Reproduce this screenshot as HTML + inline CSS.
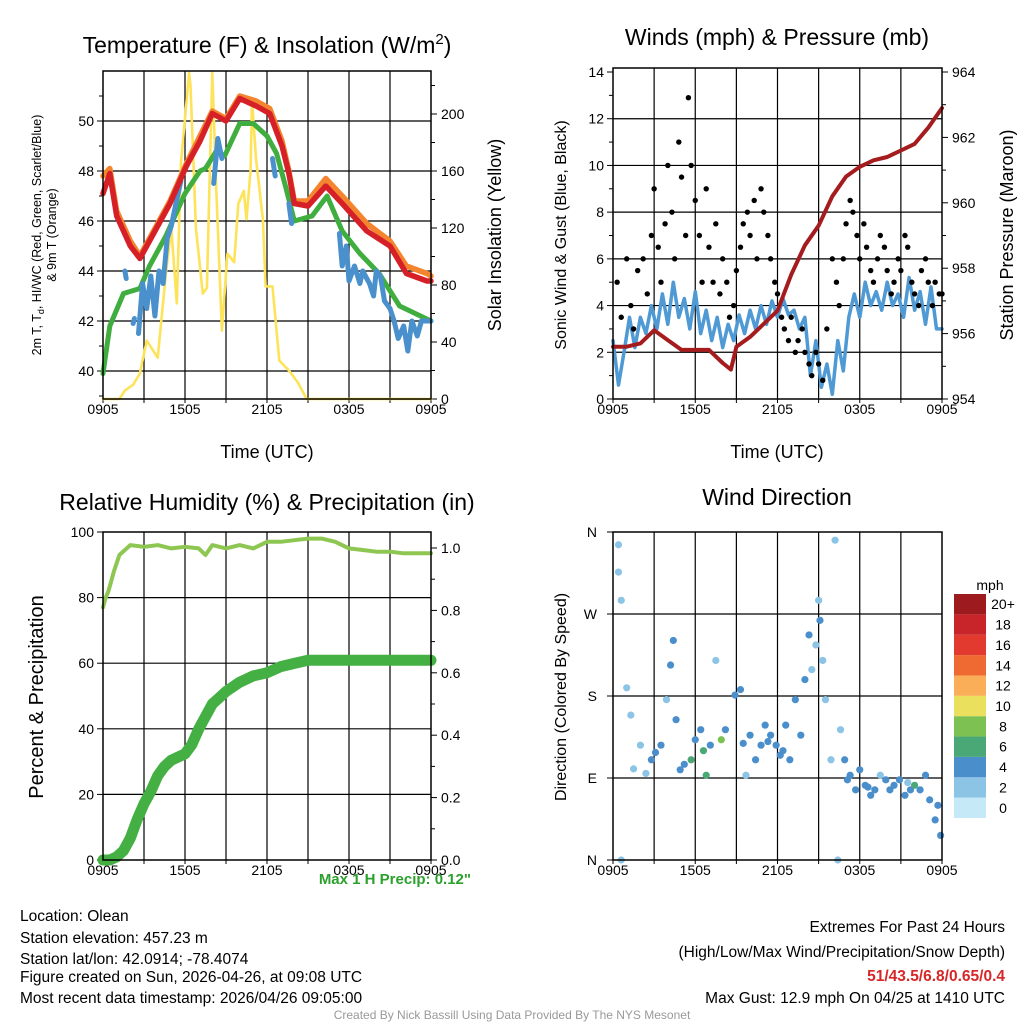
<!DOCTYPE html>
<html><head><meta charset="utf-8">
<style>
html,body{margin:0;padding:0;background:#fff;}
svg{display:block;font-family:"Liberation Sans",Arial,sans-serif;}
</style></head>
<body>
<svg id="root" width="1024" height="1024" viewBox="0 0 1024 1024">
<rect x="0" y="0" width="1024" height="1024" fill="#fff"/>
<text x="267" y="53" font-size="23" text-anchor="middle">Temperature (F) &amp; Insolation (W/m<tspan dy="-9" font-size="15">2</tspan><tspan dy="9">)</tspan></text>
<text x="777" y="45" font-size="23" text-anchor="middle">Winds (mph) &amp; Pressure (mb)</text>
<text x="267" y="510" font-size="23" text-anchor="middle">Relative Humidity (%) &amp; Precipitation (in)</text>
<text x="777" y="505" font-size="23" text-anchor="middle">Wind Direction</text>

<text transform="translate(41,235) rotate(-90)" font-size="12.5" text-anchor="middle">2m T, T<tspan font-size="9" dy="3">d</tspan><tspan dy="-3">, HI/WC (Red, Green, Scarlet/Blue)</tspan></text>
<text transform="translate(56,235) rotate(-90)" font-size="12.5" text-anchor="middle">&amp; 9m T (Orange)</text>
<text transform="translate(501,235) rotate(-90)" font-size="18" text-anchor="middle">Solar Insolation (Yellow)</text>
<text x="267" y="458" font-size="18" text-anchor="middle">Time (UTC)</text>
<text transform="translate(566,235) rotate(-90)" font-size="16" text-anchor="middle">Sonic Wind &amp; Gust (Blue, Black)</text>
<text transform="translate(1013,235) rotate(-90)" font-size="18" text-anchor="middle">Station Pressure (Maroon)</text>
<text x="777" y="458" font-size="18" text-anchor="middle">Time (UTC)</text>
<text transform="translate(43,697) rotate(-90)" font-size="20" text-anchor="middle">Percent &amp; Precipitation</text>
<text transform="translate(566,697) rotate(-90)" font-size="16" text-anchor="middle">Direction (Colored By Speed)</text>
<text x="471" y="884" font-size="15" font-weight="bold" fill="#2ca02c" text-anchor="end">Max 1 H Precip: 0.12"</text>
<text x="990" y="590" font-size="14" text-anchor="middle">mph</text>

<g font-size="15.5">
<text x="20" y="921">Location: Olean</text>
<text x="20" y="943">Station elevation: 457.23 m</text>
<text x="20" y="964">Station lat/lon: 42.0914; -78.4074</text>
<text x="20" y="982">Figure created on Sun, 2026-04-26, at 09:08 UTC</text>
<text x="20" y="1003">Most recent data timestamp: 2026/04/26 09:05:00</text>
</g>
<g font-size="15.5" text-anchor="end">
<text x="1005" y="932">Extremes For Past 24 Hours</text>
<text x="1005" y="957">(High/Low/Max Wind/Precipitation/Snow Depth)</text>
<text x="1005" y="981" font-weight="bold" fill="#d62728">51/43.5/6.8/0.65/0.4</text>
<text x="1005" y="1003">Max Gust: 12.9 mph On 04/25 at 1410 UTC</text>
</g>
<text x="512" y="1019" font-size="12" fill="#999" text-anchor="middle">Created By Nick Bassill Using Data Provided By The NYS Mesonet</text>
</svg>
<script>
// ---------- data ----------
const xTickLabels = ["0905","1505","2105","0305","0905"];
// Panel 1
const redT = [0,0.5,1,2,2.7,3.7,4.9,6.1,7.1,8,9,10,11.2,12.2,13.1,13.6,14,15,16.3,17.5,19.3,21,22.2,23.7,24];
const redV = [47.1,47.9,46.2,45,44.5,45.5,46.7,48.2,49.2,50.3,50,50.9,50.6,50.3,49,47.9,46.7,46.6,47.4,46.7,45.6,45,43.9,43.6,43.6];
const orangeV = [47.8,48.1,46.4,45.2,44.6,45.6,46.8,48.3,49.4,50.4,50.1,51,50.8,50.5,49.2,48.0,46.8,46.8,47.7,47.0,45.9,45.2,44.2,43.9,43.8];
const greenT = [0,0.5,1.5,2.7,3.4,4.6,6,7.1,7.5,8.3,8.9,10,11,12,12.7,13.4,14,15.3,16.4,17.5,18.8,20.2,21.7,24];
const greenV = [39.9,41.8,43.1,43.3,44.2,45.4,47.1,48,48.1,48.8,48.6,49.9,49.9,49.4,48.7,47.3,46,46.2,47,45.6,44.7,43.9,42.6,42];
const blueT = [1.6,1.7,null,2.2,2.3,null,2.6,2.9,3.2,3.5,3.8,4.1,4.4,4.7,5,5.3,5.7,null,8.1,8.4,8.7,null,12.4,12.6,null,13.6,13.8,null,17.3,17.5,17.8,18,18.4,18.8,19,19.5,19.8,20,20.3,20.6,21,21.3,21.6,22,22.3,22.6,23,23.3,23.6,24];
const blueV = [44,43.7,null,41.9,42.1,null,41.5,43.5,42.5,43.8,42.2,44,43.5,45.3,45.8,46.6,47.6,null,47.5,49.3,48.5,null,48.5,47.8,null,46.7,45.9,null,45.5,44.2,45,43.6,44.2,43.5,44,43.5,43,44,43.8,42.8,42.5,42,41.3,41.8,40.8,42,41.4,42,42,42];
const solarT = [0,1.2,1.6,2.2,2.7,3.2,4,4.6,5,5.4,5.7,6.3,6.4,6.8,7.3,7.6,8,8.3,8.7,9.1,9.6,9.9,10.3,10.5,10.8,10.9,11.2,11.7,11.9,12.4,12.9,13.6,14.3,14.9,24];
const solarV = [0,0,6,10,18,41,29,88,120,67,165,229,220,120,74,78,229,145,48,102,96,137,146,126,161,210,168,126,79,79,27,20,11,0,0];
// Panel 2
const windT = [0,0.4,0.8,1.2,1.6,2,2.4,2.8,3.2,3.6,4,4.4,4.8,5.2,5.6,6,6.4,6.8,7.2,7.6,8,8.4,8.8,9.2,9.6,10,10.4,10.8,11.2,11.6,12,12.4,12.8,13.2,13.6,14,14.4,14.8,15.2,15.6,16,16.4,16.8,17.2,17.6,18,18.4,18.8,19.2,19.6,20,20.4,20.8,21.2,21.6,22,22.4,22.8,23.2,23.6,24];
const windV = [2.5,0.6,2,3.5,2.2,3.5,2.8,4,3,4.5,3.2,5,3.5,4.3,3,4.6,2.8,3.8,2.5,3.5,2.2,3.2,2.5,3.6,2.8,3.8,3,4,3.2,4.2,3.5,4.3,3.6,3.8,3,3.5,1,2.5,0.5,1.5,0.2,2.5,1.2,3.5,4.5,3.5,5,4,4.6,3.8,5,4,4.5,3.5,5.2,3.8,4.6,3.2,4.8,3,3];
const gustT = [0.3,0.6,1,1.3,1.5,1.8,2.2,2.5,2.8,3,3.3,3.5,3.8,4,4.3,4.5,4.8,5,5.3,5.5,5.7,6,6.3,6.5,6.8,7,7.3,7.5,7.8,8,8.3,8.5,8.8,9,9.3,9.5,9.8,10,10.3,10.5,10.8,11,11.3,11.5,11.8,12,12.3,12.5,12.8,13,13.3,13.5,13.8,14,14.3,14.5,14.8,15,15.3,15.6,16,16.3,16.5,16.8,17,17.3,17.5,17.8,18,18.3,18.5,18.8,19,19.3,19.5,19.8,20,20.3,20.5,20.8,21,21.3,21.5,21.8,22,22.3,22.5,22.8,23,23.3,23.5,23.8,24];
const gustV = [5,3.5,6,4,3,5.5,6,4.5,7,9,6.5,5,7.5,10,8,6,11,9.5,7,12.9,10,8.5,7,5,9,6.5,5,7.5,4.5,6,5,3.5,4,5.5,6.5,7.5,8,7,8.5,6,9,8,7,6,5,4.5,3.5,3,2.5,3.5,2,2.5,3,2,1.5,1,2,1.5,0.8,3,6,5,4,6,7.5,8.5,8,7,6,7.5,6.5,5.5,5,6,7,6.5,5.5,4.5,5,6,5.5,7,6.5,5,4.5,4,5.5,6,5,4,5,4.5,4.5];
const presT = [0,1,2,3,4,5,6,7,8,8.6,9,10,11,12,13,14,15,16,17,18,19,20,21,22,23,24];
const presV = [955.6,955.6,955.7,956.1,955.8,955.5,955.5,955.5,955.1,954.9,955.6,955.9,956.3,956.7,957.8,958.7,959.3,960.2,960.8,961.1,961.3,961.4,961.6,961.8,962.3,962.9];
// Panel 3
const rhT = [0,0.2,0.4,0.8,1.2,2,3,4,5,6,7,7.5,8,9,10,11,12,13,14,15,16,17,18,19,20,21,22,23,24];
const rhV = [77,80,82,88,93,96,95.5,96,95,95.5,95,93,96,95,96,95,97,97,97.5,98,98,97,95,94.5,94,94,93.5,93.5,93.5];
const precipT = [0,0.5,1,1.5,2,2.5,3,3.5,4,4.5,5,5.5,6,6.5,7,7.5,8,8.5,9,10,11,12,13,14,15,16,17,18,19,20,21,22,23,24];
const precipV = [0,0,0.01,0.03,0.07,0.13,0.18,0.22,0.27,0.3,0.32,0.33,0.34,0.37,0.42,0.46,0.5,0.52,0.54,0.57,0.59,0.6,0.62,0.63,0.64,0.64,0.64,0.64,0.64,0.64,0.64,0.64,0.64,0.64];
// Panel 4
const dirT = [0.4,0.4,0.6,0.6,1,1.3,2,2.8,3.5,3.9,4.2,4.4,4.6,4.9,5.7,6,6.4,6.8,7.1,7.5,7.9,8.2,8.9,9.3,9.7,10,10.4,10.8,11.1,11.5,11.9,12.2,12.6,12.9,13.3,13.7,14,14.3,14.5,14.8,15,15.1,15.3,15.5,15.9,16.2,16.4,16.6,16.9,17.3,17.7,18,18.4,18.8,19.1,19.5,19.9,20.2,20.5,20.9,21.3,21.7,22,22.4,22.8,23.1,23.5,23.9,1.5,2.4,3.1,5.2,6.6,9.5,11.3,12.4,17.1,18.6,21.5,23.7];
const dirV = [346,316,285,0,189,159,126,110,126,176,214,241,154,99,110,132,143,93,126,219,132,143,181,187,93,137,110,126,148,137,126,115,148,110,176,137,198,247,209,236,285,263,219,176,110,351,0,143,110,93,77,99,82,71,77,93,88,77,82,88,71,77,82,77,93,66,44,27,100,95,118,105,120,128,130,120,88,80,85,60];
const dirSpd = [1,1,1,1,2,2,2,3,3,2,3,3,3,4,5,4,4,5,4,2,7,4,4,3,2,4,4,4,4,4,4,4,4,4,3,3,3,3,2,2,2,3,2,1,1,1,1,1,3,4,3,3,4,4,3,2,3,4,3,4,3,3,5,4,3,3,4,4,2,2,3,3,5,3,4,3,3,4,2,4];
const cbLabels = ["0","2","4","6","8","10","12","14","16","18","20+"];
const cbColors = ["#c6e9f8","#8cc4e6","#4a8fcb","#4aa877","#7cc152","#ebe05e","#f9ae57","#ef6a32","#e23a2f","#c8252a","#9d1b1f"];

// ---------- helpers ----------
const NS = "http://www.w3.org/2000/svg";
const root = document.getElementById("root");
function el(tag, attrs, parent) {
  const e = document.createElementNS(NS, tag);
  for (const k in attrs) e.setAttribute(k, attrs[k]);
  (parent || root).appendChild(e);
  return e;
}
function lin(d0, d1, r0, r1) { return v => r0 + (v - d0) * (r1 - r0) / (d1 - d0); }
function pathFrom(ts, vs, sx, sy) {
  let d = "", pen = false;
  for (let i = 0; i < ts.length; i++) {
    if (ts[i] === null || vs[i] === null) { pen = false; continue; }
    d += (pen ? "L" : "M") + sx(ts[i]).toFixed(1) + "," + sy(vs[i]).toFixed(1);
    pen = true;
  }
  return d;
}

function panel(name, x0, x1, y0, y1, leftTicks, leftFmt, leftMinor, sy, rightTicks, rightFmt, rightMinor, sy2, gridY) {
  const g = el("g", {});
  
  
  const sx = lin(0, 24, x0, x1);
  for (let h = 3; h < 24; h += 3) {
    const l = el("line", {x1: sx(h), x2: sx(h), y1: y0, y2: y1, stroke: "#000", "stroke-width": 1.2}, g);
    
    
  }
  for (const v of gridY) {
    const l = el("line", {x1: x0, x2: x1, y1: sy(v), y2: sy(v), stroke: "#000", "stroke-width": 1.2}, g);
    
    
  }
  xTickLabels.forEach((lab, i) => {
    const x = sx(i * 6);
    const t = el("text", {x: x, y: y1 + 15, "font-size": 14, "text-anchor": "middle"}, g);
    t.textContent = lab;
    
    
  });
  for (let h = 0; h <= 24; h += 3) {
    const l = el("line", {x1: sx(h), x2: sx(h), y1: y1, y2: y1 + 4, stroke: "#000"}, g);
    
    
  }
  leftTicks.forEach(v => {
    const l = el("line", {x1: x0 - 6, x2: x0, y1: sy(v), y2: sy(v), stroke: "#000"}, g);
    
    
    const t = el("text", {x: x0 - 9, y: sy(v) + 5, "font-size": 14, "text-anchor": "end"}, g);
    t.textContent = leftFmt(v);
    
    
  });
  leftMinor.forEach(v => {
    const l = el("line", {x1: x0 - 4, x2: x0, y1: sy(v), y2: sy(v), stroke: "#000"}, g);
    
    
  });
  if (sy2) {
    rightTicks.forEach(v => {
      const l = el("line", {x1: x1, x2: x1 + 6, y1: sy2(v), y2: sy2(v), stroke: "#000"}, g);
      
      
      const t = el("text", {x: x1 + 10, y: sy2(v) + 5, "font-size": 14}, g);
      t.textContent = rightFmt(v);
      
      
    });
    rightMinor.forEach(v => {
      const l = el("line", {x1: x1, x2: x1 + 4, y1: sy2(v), y2: sy2(v), stroke: "#000"}, g);
      
      
    });
  }
  return sx;
}
function frame(name, x0, x1, y0, y1) {
  const r = el("rect", {x: x0, y: y0, width: x1 - x0, height: y1 - y0, fill: "none", stroke: "#000", "stroke-width": 1.5});
  
  
}
function line(ts, vs, sx, sy, color, w, name) {
  const p = el("path", {d: pathFrom(ts, vs, sx, sy), fill: "none", stroke: color, "stroke-width": w, "stroke-linejoin": "round", "stroke-linecap": "round"});
  
  
}

// ---------- Panel 1 ----------
{
  const x0 = 103, x1 = 431, y0 = 71, y1 = 399;
  const sy = lin(40, 50, 371, 121), sy2 = lin(0, 200, 399, 114);
  const sx = panel("temperature", x0, x1, y0, y1, [40,42,44,46,48,50], v => v, [39,41,43,45,47,49,51], sy,
    [0,40,80,120,160,200], v => v, [20,60,100,140,180,220], sy2, [40,42,44,46,48,50]);
  line(solarT, solarV, sx, sy2, "#fde35a", 2.6, "solar-insolation-line");
  line(greenT, greenV, sx, sy, "#3fae3f", 5, "heat-index-line");
  line(blueT, blueV, sx, sy, "#4a90cc", 5, "wind-chill-line");
  line(redT, orangeV, sx, sy, "#f4842d", 5.5, "temp-9m-line");
  line(redT, redV, sx, sy, "#d62028", 5.5, "temp-2m-line");
  frame("temperature", x0, x1, y0, y1);
}
// ---------- Panel 2 ----------
{
  const x0 = 613, x1 = 942, y0 = 68, y1 = 399;
  const sy = lin(0, 14, 399, 72), sy2 = lin(954, 964, 399, 72);
  const sx = panel("winds", x0, x1, y0, y1, [0,2,4,6,8,10,12,14], v => v, [1,3,5,7,9,11,13], sy,
    [954,956,958,960,962,964], v => v, [955,957,959,961,963], sy2, [2,4,6,8,10,12]);
  line(windT, windV, sx, sy, "#4f9ad4", 3.5, "sonic-wind-line");
  gustT.forEach((t, i) => {
    const c = el("circle", {cx: sx(t), cy: sy(gustV[i]), r: 2.7, fill: "#000"});
    
    
  });
  line(presT, presV, sx, sy2, "#a51c1f", 4, "pressure-line");
  frame("winds", x0, x1, y0, y1);
}
// ---------- Panel 3 ----------
{
  const x0 = 103, x1 = 431, y0 = 532, y1 = 860;
  const sy = lin(0, 100, 860, 532), sy2 = lin(0, 1, 860, 548);
  const sx = panel("humidity", x0, x1, y0, y1, [0,20,40,60,80,100], v => v, [], sy,
    [0,0.2,0.4,0.6,0.8,1.0], v => v.toFixed(1), [0.1,0.3,0.5,0.7,0.9], sy2, [20,40,60,80]);
  line(rhT, rhV, sx, sy, "#8ec652", 4, "relative-humidity-line");
  line(precipT, precipV, sx, sy2, "#44b044", 11, "precipitation-line");
  frame("humidity", x0, x1, y0, y1);
}
// ---------- Panel 4 ----------
{
  const x0 = 613, x1 = 942, y0 = 532, y1 = 860;
  const sy = lin(0, 360, 860, 532);
  const dirLabels = ["N","E","S","W","N"];
  const sx = panel("wind-direction", x0, x1, y0, y1, [], v => v, [], sy, [], null, [], null, [90,180,270]);
  dirLabels.forEach((lab, i) => {
    const y = sy(i * 90);
    const l = el("line", {x1: x0 - 6, x2: x0, y1: y, y2: y, stroke: "#000"});
    
    
    const t = el("text", {x: x0 - 16, y: y + 5, "font-size": 14, "text-anchor": "end"});
    t.textContent = lab;
    
    
  });
  dirT.forEach((t, i) => {
    const c = el("circle", {cx: sx(t), cy: sy(dirV[i]), r: 3.6, fill: cbColors[Math.min(10, Math.round(dirSpd[i] / 2))]});
    
    
  });
  frame("wind-direction", x0, x1, y0, y1);
  const cbx = 954, cbw = 32, cbTop = 594, cbBot = 818, h = (cbBot - cbTop) / cbLabels.length;
  cbLabels.forEach((lab, i) => {
    const y = cbBot - (i + 1) * h;
    const r = el("rect", {x: cbx, y: y, width: cbw, height: h, fill: cbColors[i]});
    
    
    const t = el("text", {x: 1003, y: y + h / 2 + 5, "font-size": 14, "text-anchor": "middle"});
    t.textContent = lab;
    
    
  });
}
</script>
</body></html>
